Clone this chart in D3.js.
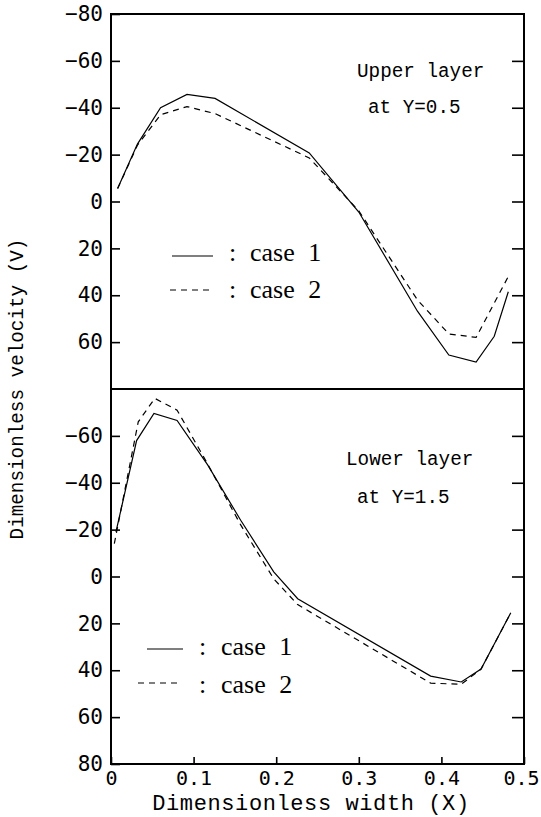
<!DOCTYPE html>
<html>
<head>
<meta charset="utf-8">
<script src="https://cdn.jsdelivr.net/npm/d3@7"></script>
<style>
	body { margin: 0; background: white; }
	svg { display: block; }
</style>
</head>
<body>
<div id="chart"></div>
<script>
// x positions / velocities
const upperX1 = [0.008, 0.032, 0.060, 0.092, 0.126, 0.240, 0.300, 0.371, 0.409, 0.442, 0.464, 0.481];
const upperV1 = [-5.5, -24.5, -40, -45.7, -44, -20.7, 4.5, 46.8, 65.5, 68.5, 57.5, 38.5];
const upperX2 = [0.008, 0.032, 0.060, 0.092, 0.126, 0.240, 0.300, 0.371, 0.409, 0.442, 0.481];
const upperV2 = [-5.5, -24, -37, -40.5, -37.5, -18.6, 4, 42, 56.5, 58, 32];

const lowerX1 = [0.006, 0.031, 0.052, 0.080, 0.117, 0.157, 0.197, 0.226, 0.387, 0.424, 0.448, 0.484];
const lowerV1 = [-19, -58, -69.6, -66.6, -47.6, -24, -2, 9.5, 42.5, 45, 39.5, 15.5];
const lowerX2 = [0.004, 0.033, 0.053, 0.080, 0.117, 0.157, 0.197, 0.226, 0.387, 0.424, 0.448, 0.484];
const lowerV2 = [-14, -66, -76, -71, -48, -22, 1, 12, 45.5, 46, 39.5, 15.5];

const xTicks = [0, 0.1, 0.2, 0.3, 0.4, 0.5];
const yTicksUpper = [-80, -60, -40, -20, 0, 20, 40, 60];
const yTicksLower = [-60, -40, -20, 0, 20, 40, 60, 80];
const yTicksInner = [-60, -40, -20, 0, 20, 40, 60];

const W = 541, H = 817;
const pLeft = 111, pRight = 524, pTop = 14, pMid = 389, pBottom = 764;

let svg = d3.select("#chart")
	.append("svg")
	.attr("width", W)
	.attr("height", H)
	.style("background-color", "white");

let x = d3.scaleLinear().domain([0, 0.5]).range([pLeft, pRight]);
let yUp = d3.scaleLinear().domain([-80, 80]).range([pTop, pMid]);
let yLo = d3.scaleLinear().domain([-80, 80]).range([pMid, pBottom]);

function drawPanel(y, labels, xs1, vs1, xs2, vs2) {
	// left ticks + labels
	let gl = svg.append("g")
		.attr("transform", "translate(" + pLeft + ",0)")
		.call(d3.axisLeft(y).tickValues(labels).tickSizeInner(-9).tickSizeOuter(0).tickPadding(8));
	gl.select(".domain").remove();
	gl.selectAll("text")
		.attr("font-family", "DejaVu Sans Mono")
		.attr("font-size", 21)
		.attr("fill", "black");
	gl.selectAll("line").attr("stroke", "black").attr("stroke-width", 1.6);

	// right ticks
	let gr = svg.append("g")
		.attr("transform", "translate(" + pRight + ",0)")
		.call(d3.axisRight(y).tickValues(yTicksInner).tickSizeInner(-12).tickSizeOuter(0).tickFormat(""));
	gr.select(".domain").remove();
	gr.selectAll("line").attr("stroke", "black").attr("stroke-width", 1.6);

	let line = d3.line()
		.x(d => x(d[0]))
		.y(d => y(d[1]));

	svg.append("path")
		.datum(d3.zip(xs1, vs1))
		.attr("d", line)
		.attr("fill", "none")
		.attr("stroke", "black")
		.attr("stroke-width", 1.2);

	svg.append("path")
		.datum(d3.zip(xs2, vs2))
		.attr("d", line)
		.attr("fill", "none")
		.attr("stroke", "black")
		.attr("stroke-width", 1.2)
		.attr("stroke-dasharray", "6,5");
}

drawPanel(yUp, yTicksUpper, upperX1, upperV1, upperX2, upperV2);
drawPanel(yLo, yTicksLower, lowerX1, lowerV1, lowerX2, lowerV2);

// x axis, ticks pointing up
let gx = svg.append("g")
	.attr("transform", "translate(0," + pBottom + ")")
	.call(d3.axisBottom(x).tickValues(xTicks).tickSizeInner(-7).tickSizeOuter(0).tickPadding(7)
		.tickFormat(d => d === 0 ? "0" : d3.format(".1f")(d)));
gx.select(".domain").remove();
gx.selectAll("text")
	.attr("font-family", "DejaVu Sans Mono")
	.attr("font-size", 20)
	.attr("fill", "black")
	.attr("dx", (d, i) => i == xTicks.length - 1 ? -3 : 0);
gx.selectAll("line").attr("stroke", "black").attr("stroke-width", 1.6);

// frames
svg.append("rect")
	.attr("x", pLeft).attr("y", pTop)
	.attr("width", pRight - pLeft).attr("height", pBottom - pTop)
	.attr("fill", "none").attr("stroke", "black").attr("stroke-width", 2);
svg.append("line")
	.attr("x1", pLeft).attr("x2", pRight)
	.attr("y1", pMid).attr("y2", pMid)
	.attr("stroke", "black").attr("stroke-width", 2);

// axis titles
svg.append("text")
	.attr("transform", "translate(23," + pMid + ") rotate(-90)")
	.attr("text-anchor", "middle")
	.attr("font-family", "Liberation Mono")
	.attr("font-size", 19.3)
	.attr("fill", "black")
	.text("Dimensionless velocity (V)");

svg.append("text")
	.attr("x", 311)
	.attr("y", 810)
	.attr("text-anchor", "middle")
	.attr("font-family", "Liberation Mono")
	.attr("font-size", 22)
	.attr("letter-spacing", 0.6)
	.attr("fill", "black")
	.text("Dimensionless width (X)");

// panel notes
let notes = [
	{t: "Upper layer", x: 357, y: 77},
	{t: "at Y=0.5", x: 368, y: 113},
	{t: "Lower layer", x: 346, y: 465},
	{t: "at Y=1.5", x: 357, y: 503}
];
svg.selectAll(".note")
	.data(notes)
	.enter()
	.append("text")
	.attr("class", "note")
	.attr("x", d => d.x)
	.attr("y", d => d.y)
	.attr("font-family", "Liberation Mono")
	.attr("font-size", 19.3)
	.attr("fill", "black")
	.text(d => d.t);

// legends
let legends = [
	{x1: 172, x2: 213, y: 256, dash: null, tx: 229, cx: 250, base: 261, label: "case 1"},
	{x1: 170, x2: 213, y: 290, dash: "6,5", tx: 229, cx: 250, base: 298, label: "case 2"},
	{x1: 147, x2: 183, y: 649, dash: null, tx: 199, cx: 221, base: 655, label: "case 1"},
	{x1: 138, x2: 182, y: 683, dash: "6,5", tx: 199, cx: 221, base: 693, label: "case 2"}
];
for (let lg of legends) {
	svg.append("line")
		.attr("x1", lg.x1).attr("x2", lg.x2)
		.attr("y1", lg.y).attr("y2", lg.y)
		.attr("stroke", "black")
		.attr("stroke-width", 1.2)
		.attr("stroke-dasharray", lg.dash);
	svg.append("text")
		.attr("x", lg.tx).attr("y", lg.base)
		.attr("font-family", "Liberation Serif")
		.attr("font-size", 26)
		.attr("fill", "black")
		.text(":");
	svg.append("text")
		.attr("x", lg.cx).attr("y", lg.base)
		.attr("font-family", "Liberation Serif")
		.attr("font-size", 26)
		.attr("word-spacing", 7)
		.attr("fill", "black")
		.text(lg.label);
}
</script>
</body>
</html>
